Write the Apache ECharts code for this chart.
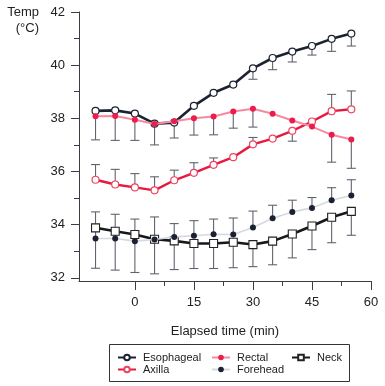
<!DOCTYPE html>
<html><head><meta charset="utf-8">
<script src="https://cdn.jsdelivr.net/npm/echarts@6/dist/echarts.min.js"></script>
<style>html,body{margin:0;padding:0;background:#fff}#c{width:385px;height:386px}</style>
</head><body><div id="c"></div>
<script>
const times = [-10,-5,0,5,10,15,20,25,30,35,40,45,50,55];
const esophageal    = [38.28,38.30,38.18,37.80,37.84,38.47,38.96,39.27,39.88,40.27,40.51,40.72,40.99,41.19];
const esophagealErr = [null,null,null,null,null,null,null,null,39.47,39.83,40.12,40.38,40.52,40.72];
const rectal        = [38.08,38.09,37.95,37.79,37.89,38.00,38.07,38.26,38.36,38.17,37.92,37.69,37.38,37.20];
const rectalErr     = [37.19,37.17,37.17,37.00,37.26,37.37,37.38,37.63,37.67,null,null,null,36.35,36.12];
const axilla        = [35.69,35.51,35.40,35.29,35.67,35.95,36.25,36.54,37.02,37.24,37.53,37.88,38.27,38.34];
const axillaErr     = [36.26,36.08,35.92,35.80,36.05,36.33,36.51,null,37.28,null,37.14,null,38.90,39.03];
const neck          = [33.88,33.75,33.63,33.45,33.39,33.29,33.29,33.34,33.25,33.38,33.65,33.95,34.28,34.50];
const neckErr       = [32.36,32.29,32.20,32.15,32.31,32.35,32.35,32.38,32.42,32.49,32.75,33.06,33.32,33.60];
const forehead      = [33.48,33.48,33.38,33.44,33.54,33.58,33.64,33.63,33.89,34.24,34.48,34.63,34.92,35.10];
const foreheadErr   = [34.48,34.39,34.21,34.29,34.04,34.15,34.21,34.25,34.51,34.73,34.92,35.02,35.39,35.69];
const xMajorTicks = [0,15,30,45,60];
const xMinorTicks = [7.5,22.5,37.5,52.5];
const yMajorTicks = [32,34,36,38,40,42];
const yMinorTicks = [33,35,37,39,41];

const FONT = 'Liberation Sans, Arial, sans-serif';
const pts = (vals) => times.map((t,i)=>[t, vals[i]]);
const errs = (vals, ends) => times.map((t,i)=>[t, vals[i], ends[i]]).filter(d=>d[2]!=null);

function errSeries(name, vals, ends) {
  return {
    type:'custom', name: name+'_err', z: 1, silent:true,
    data: errs(vals, ends),
    renderItem: function(params, api){
      const p1 = api.coord([api.value(0), api.value(1)]);
      const p2 = api.coord([api.value(0), api.value(2)]);
      const st = {stroke:'#60646e', lineWidth:1.1};
      return {type:'group', children:[
        {type:'line', shape:{x1:p1[0],y1:p1[1],x2:p2[0],y2:p2[1]}, style:st},
        {type:'line', shape:{x1:p2[0]-4.5,y1:p2[1],x2:p2[0]+4.5,y2:p2[1]}, style:st}
      ]};
    }
  };
}

const chart = echarts.init(document.getElementById('c'), null, {renderer:'canvas'});
chart.setOption({
  animation:false,
  textStyle:{fontFamily:FONT},
  grid:{left:79, right:14, top:12, bottom:105},
  xAxis:[{
    type:'value', min:-14.2, max:60,
    name:'Elapsed time (min)', nameLocation:'middle', nameGap:44,
    nameTextStyle:{fontSize:13, color:'#222', fontFamily:FONT},
    axisLine:{show:true, onZero:false, lineStyle:{color:'#3a3d45', width:1}},
    axisTick:{show:true, customValues:xMajorTicks, length:9, lineStyle:{color:'#3a3d45'}},
    axisLabel:{customValues:xMajorTicks, fontSize:13, color:'#222', margin:15, fontFamily:FONT},
    splitLine:{show:false}
  },{
    type:'value', min:-14.2, max:60, position:'bottom',
    axisLine:{show:false, onZero:false},
    axisTick:{show:true, customValues:xMinorTicks, length:5, lineStyle:{color:'#3a3d45'}},
    axisLabel:{show:false}, splitLine:{show:false}
  }],
  yAxis:[{
    type:'value', min:31.88, max:42,
    axisLine:{show:true, onZero:false, lineStyle:{color:'#3a3d45', width:1}},
    axisTick:{show:true, customValues:yMajorTicks, length:8, lineStyle:{color:'#3a3d45'}},
    axisLabel:{customValues:yMajorTicks, fontSize:13, color:'#222', margin:14, fontFamily:FONT},
    splitLine:{show:false}
  },{
    type:'value', min:31.88, max:42, position:'left',
    axisLine:{show:false, onZero:false},
    axisTick:{show:true, customValues:yMinorTicks, length:5, lineStyle:{color:'#3a3d45'}},
    axisLabel:{show:false}, splitLine:{show:false}
  }],
  legend:[
    {left:112, top:347, orient:'vertical', itemWidth:18, itemHeight:7, itemGap:1,
     textStyle:{fontSize:11, color:'#222', fontFamily:FONT, padding:[0,0,0,2]}, data:['Esophageal','Axilla']},
    {left:206, top:347, orient:'vertical', itemWidth:18, itemHeight:7, itemGap:1,
     textStyle:{fontSize:11, color:'#222', fontFamily:FONT, padding:[0,0,0,2]}, data:['Rectal','Forehead']},
    {left:286, top:347, orient:'vertical', itemWidth:18, itemHeight:7, itemGap:1,
     textStyle:{fontSize:11, color:'#222', fontFamily:FONT, padding:[0,0,0,2]}, data:['Neck']}
  ],
  graphic:[
    {type:'rect', left:107, top:342, shape:{width:240, height:37}, style:{fill:'none', stroke:'#333', lineWidth:1}, z:-1},
    {type:'text', right:346, top:6, style:{text:'Temp', fontSize:13, fill:'#222', fontFamily:FONT, align:'right'}},
    {type:'text', right:346, top:22, style:{text:'(°C)', fontSize:13, fill:'#222', fontFamily:FONT, align:'right'}}
  ],
  series:[
    errSeries('Esophageal', esophageal, esophagealErr),
    errSeries('Rectal', rectal, rectalErr),
    errSeries('Axilla', axilla, axillaErr),
    errSeries('Neck', neck, neckErr),
    errSeries('Forehead', forehead, foreheadErr),
    {name:'Esophageal', type:'line', z:3, data:pts(esophageal), symbol:'circle', symbolSize:7,
     lineStyle:{color:'#1b2232', width:2.6}, itemStyle:{color:'#fff', borderColor:'#1b2232', borderWidth:1.2}},
    {name:'Axilla', type:'line', z:3, data:pts(axilla), symbol:'circle', symbolSize:7,
     lineStyle:{color:'#e8193f', width:2.4}, itemStyle:{color:'#fff', borderColor:'#ec4463', borderWidth:1.2}},
    {name:'Neck', type:'line', z:3, data:pts(neck), symbol:'rect', symbolSize:8,
     lineStyle:{color:'#16181d', width:2.6}, itemStyle:{color:'#fff', borderColor:'#222', borderWidth:1.1}},
    {name:'Forehead', type:'line', z:4, data:pts(forehead), symbol:'circle', symbolSize:6,
     lineStyle:{color:'#d5d9de', width:1.6}, itemStyle:{color:'#1a2133', borderColor:'#1a2133', borderWidth:0}},
    {name:'Rectal', type:'line', z:5, data:pts(rectal), symbol:'circle', symbolSize:6,
     lineStyle:{color:'#f58aa0', width:2}, itemStyle:{color:'#ec1c4b', borderColor:'#ec1c4b', borderWidth:0}}
  ]
});
</script></body></html>
